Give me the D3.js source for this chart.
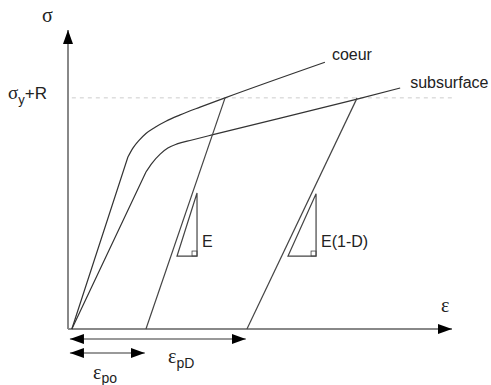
<!DOCTYPE html>
<html>
<head>
<meta charset="utf-8">
<script src="https://d3js.org/d3.v7.min.js"></script>
<style>
  body { margin: 0; background: #fff; }
  text { font-family: "Liberation Sans", Arial, sans-serif; fill: #222; }
  .greek { font-family: "Liberation Serif", "DejaVu Serif", serif; }
</style>
</head>
<body>
<svg width="491" height="385"></svg>
<script>
// strain (eps) and stress (sigma), arbitrary units 0..100
var coeurEps   = [1.0, 15.6, 16.9, 18.5, 20.3, 22.7, 25.5, 29.2, 34.4, 40.9, 66.9];
var coeurSig   = [0.0, 57.5, 60.5, 63.1, 65.4, 67.5, 69.5, 71.6, 74.2, 77.3, 89.2];
var subEps     = [1.0, 20.3, 21.9, 24.0, 26.0, 28.4, 32.3, 37.5, 75.3, 86.5];
var subSig     = [0.0, 52.5, 55.5, 58.5, 60.5, 61.9, 63.2, 64.9, 76.9, 80.6];
var sigmaYR = 77.3;            // sigma_y + R
var unloadCoeur = [[40.9, 77.3], [20.3, 0]];
var unloadSub   = [[75.3, 77.3], [46.6, 0]];
var triE   = [[28.4, 24.4], [33.6, 45.5]];
var triED  = [[57.3, 24.4], [64.6, 45.2]];
var epsPo = 20.3, epsPD = 46.6;

var svg = d3.select("svg");
var x = d3.scaleLinear().domain([0, 100]).range([68, 452]);
var y = d3.scaleLinear().domain([0, 100]).range([329, 30]);

var defs = svg.append("defs");
defs.append("marker").attr("id", "head")
  .attr("viewBox", "0 0 14 10").attr("refX", 14).attr("refY", 5)
  .attr("markerWidth", 14).attr("markerHeight", 10)
  .attr("markerUnits", "userSpaceOnUse").attr("orient", "auto-start-reverse")
  .append("path").attr("d", "M0,0L14,5L0,10Z").attr("fill", "#000");

// dashed sigma_y+R line
svg.append("line")
  .attr("x1", x(1)).attr("x2", x(101))
  .attr("y1", y(sigmaYR)).attr("y2", y(sigmaYR))
  .attr("stroke", "#ccc").attr("stroke-dasharray", "4,4");

// axes
svg.append("line").attr("x1", x(0)).attr("y1", y(0)).attr("x2", x(0)).attr("y2", y(100))
  .attr("stroke", "#888").attr("stroke-width", 2).attr("marker-end", "url(#head)");
svg.append("line").attr("x1", x(0)).attr("y1", y(0)).attr("x2", x(100)).attr("y2", y(0))
  .attr("stroke", "#888").attr("stroke-width", 2).attr("marker-end", "url(#head)");

var line = d3.line().x(function(d) { return x(d[0]); }).y(function(d) { return y(d[1]); });
var smooth = d3.line().x(function(d) { return x(d[0]); }).y(function(d) { return y(d[1]); })
  .curve(d3.curveMonotoneX);

function drawCurve(eps, sig) {
  var pts = eps.map(function(e, i) { return [e, sig[i]]; });
  // elastic part straight, then hardening part smooth
  var d = line(pts.slice(0, 2)) + smooth(pts.slice(1)).replace(/^M/, "L");
  svg.append("path").attr("d", d).attr("fill", "none")
    .attr("stroke", "#333").attr("stroke-width", 1.2);
}
drawCurve(coeurEps, coeurSig);
drawCurve(subEps, subSig);

[unloadCoeur, unloadSub].forEach(function(u) {
  svg.append("path").attr("d", line(u)).attr("fill", "none")
    .attr("stroke", "#444").attr("stroke-width", 1.2);
});

// slope triangles
function triangle(t, label) {
  var x0 = x(t[0][0]), y0 = y(t[0][1]), x1 = x(t[1][0]), y1 = y(t[1][1]);
  svg.append("path").attr("d", "M" + x0 + "," + y0 + "L" + x1 + "," + y1 + "L" + x1 + "," + y0 + "Z")
    .attr("fill", "none").attr("stroke", "#444").attr("stroke-width", 1.2);
  svg.append("rect").attr("x", x1 - 5).attr("y", y0 - 5).attr("width", 5).attr("height", 5)
    .attr("fill", "none").attr("stroke", "#444").attr("stroke-width", 0.8);
  svg.append("text").attr("x", x1 + 5).attr("y", y0 - 9).attr("font-size", 16).text(label);
}
triangle(triE, "E");
triangle(triED, "E(1-D)");

// plastic strain dimension arrows
function dimArrow(e, dy) {
  svg.append("line").attr("x1", x(0.5)).attr("x2", x(e - 0.3))
    .attr("y1", y(0) + dy).attr("y2", y(0) + dy)
    .attr("stroke", "#777").attr("stroke-width", 1.5)
    .attr("marker-start", "url(#head)").attr("marker-end", "url(#head)");
}
dimArrow(epsPD, 10);
dimArrow(epsPo, 24);

// labels
svg.append("text").attr("class", "greek").attr("x", 42).attr("y", 22).attr("font-size", 20).text("σ");
svg.append("text").attr("class", "greek").attr("x", 441).attr("y", 312).attr("font-size", 20).text("ε");

var syr = svg.append("text").attr("x", 8).attr("y", y(sigmaYR) + 1).attr("font-size", 17);
syr.append("tspan").attr("class", "greek").attr("font-size", 19).text("σ");
syr.append("tspan").attr("font-size", 13).attr("dy", 5).text("y");
syr.append("tspan").attr("dy", -5).text("+R");

svg.append("text").attr("x", x(coeurEps[coeurEps.length - 1]) + 7)
  .attr("y", y(coeurSig[coeurSig.length - 1]) - 2).attr("font-size", 16).text("coeur");
svg.append("text").attr("x", x(subEps[subEps.length - 1]) + 10)
  .attr("y", y(subSig[subSig.length - 1])).attr("font-size", 16).text("subsurface");

var tpd = svg.append("text").attr("x", 168).attr("y", 363);
tpd.append("tspan").attr("class", "greek").attr("font-size", 20).text("ε");
tpd.append("tspan").attr("font-size", 14).attr("dy", 5).text("pD");

var tpo = svg.append("text").attr("x", 93).attr("y", 379);
tpo.append("tspan").attr("class", "greek").attr("font-size", 20).text("ε");
tpo.append("tspan").attr("font-size", 14).attr("dy", 4).text("po");
</script>
</body>
</html>
